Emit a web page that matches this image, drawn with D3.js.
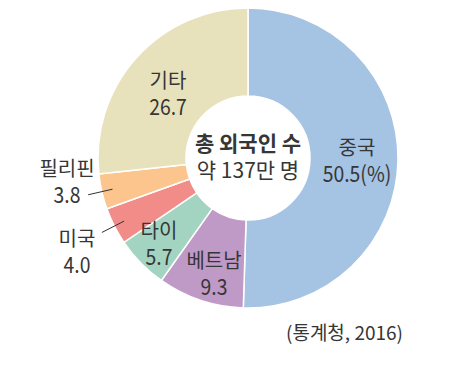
<!DOCTYPE html>
<html>
<head>
<meta charset="utf-8">
<script src="https://cdn.jsdelivr.net/npm/d3@7"></script>
<style>
  body { margin: 0; background: #fff; }
  svg text { font-family: "Noto Sans CJK KR", "Noto Sans", sans-serif; fill: #363636; }
</style>
</head>
<body>
<svg id="chart" width="474" height="373"></svg>
<script>
// data (%), clockwise from 12 o'clock
const countries = ["중국", "베트남", "타이", "미국", "필리핀", "기타"];
const shares = [50.5, 9.3, 5.7, 4.0, 3.8, 26.7];
const shareLabels = ["50.5(%)", "9.3", "5.7", "4.0", "3.8", "26.7"];
const colors = ["#a5c3e2", "#c09ac6", "#a3d4c2", "#f28c89", "#fcc58e", "#e8e2bc"];
const centerLines = ["총 외국인 수", "약 137만 명"];
const source = "(통계청, 2016)";

const svg = d3.select("#chart");
const cx = 248, cy = 158;
const outerR = 150, innerR = 62;

const data = countries.map((c, i) => ({name: c, value: shares[i], label: shareLabels[i], color: colors[i]}));

const pie = d3.pie().value(d => d.value).sort(null);
const arc = d3.arc().innerRadius(innerR).outerRadius(outerR);

const g = svg.append("g").attr("transform", `translate(${cx},${cy})`);
const arcs = pie(data);

g.selectAll("path")
  .data(arcs)
  .join("path")
    .attr("d", arc)
    .attr("fill", d => d.data.color)
    .attr("stroke", "#fff")
    .attr("stroke-width", 1.5);

// label anchor (name baseline) relative to the centre, picked by eye
const labelPos = {
  "중국":  {x: 109, y: -3},
  "베트남": {x: -34, y: 110},
  "타이":  {x: -89, y: 80},
  "미국":  {x: -171, y: 88},
  "필리핀": {x: -181, y: 18},
  "기타":  {x: -80, y: -70}
};

const labels = g.selectAll("g.lbl")
  .data(arcs)
  .join("g")
    .attr("class", "lbl")
    .attr("transform", d => `translate(${labelPos[d.data.name].x},${labelPos[d.data.name].y})`);

labels.append("text")
  .attr("text-anchor", "middle")
  .attr("font-size", 20)
  .text(d => d.data.name);

labels.append("text")
  .attr("text-anchor", "middle")
  .attr("transform", "translate(0,27) scale(0.88,1)")
  .attr("font-size", 22)
  .text(d => d.data.label);

// short radial leader lines for the two thin slices
const lineIn = d3.arc().innerRadius(139).outerRadius(139);
const lineOut = d3.arc().innerRadius(164).outerRadius(164);
["필리핀", "미국"].forEach(name => {
  const a = arcs.find(d => d.data.name === name);
  const p1 = lineOut.centroid(a), p2 = lineIn.centroid(a);
  g.append("line")
    .attr("x1", p1[0]).attr("y1", p1[1])
    .attr("x2", p2[0]).attr("y2", p2[1])
    .attr("stroke", "#333")
    .attr("stroke-width", 1);
});

// center text
g.append("text")
  .attr("text-anchor", "middle")
  .attr("y", -7)
  .attr("font-size", 21)
  .attr("font-weight", 700)
  .text(centerLines[0]);
g.append("text")
  .attr("text-anchor", "middle")
  .attr("y", 20)
  .attr("font-size", 21)
  .text(centerLines[1]);

svg.append("text")
  .attr("x", 403)
  .attr("y", 340)
  .attr("text-anchor", "end")
  .attr("font-size", 19)
  .attr("fill", "#444")
  .text(source);
</script>
</body>
</html>
